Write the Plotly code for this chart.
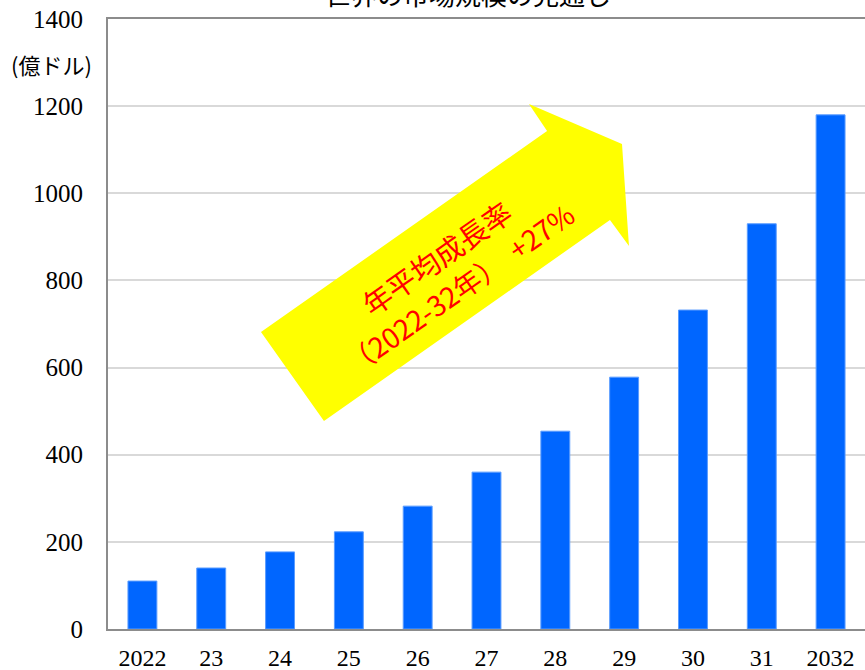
import plotly.graph_objects as go

categories = ["2022", "23", "24", "25", "26", "27", "28", "29", "30", "31", "2032"]
values = [110, 140, 177, 223, 282, 360, 454, 578, 732, 930, 1180]
y_ticks = [0, 200, 400, 600, 800, 1000, 1200, 1400]
unit_label = "(億ドル)"
title_text = "世界の市場規模の見通し"
arrow_line1 = "年平均成長率"
arrow_line2 = "（2022-32年）  +27%"

num_font = "Times New Roman, Liberation Serif, serif"
jp_font = "Noto Sans CJK JP"

fig = go.Figure()
fig.add_trace(go.Bar(
    x=list(range(len(categories))), y=values,
    marker=dict(color="#0066FF", line=dict(color="#5a9cff", width=1)),
    width=0.42, hoverinfo="skip",
))

# yellow arrow (paper coordinates)
arrow_pts = [(0.2021, 0.4869), (0.2853, 0.3410), (0.6631, 0.6705), (0.6882, 0.6279),
             (0.6790, 0.7950), (0.5561, 0.8607), (0.5800, 0.8164)]
path = "M " + " L ".join(f"{x},{y}" for x, y in arrow_pts) + " Z"
fig.add_shape(type="path", path=path, xref="paper", yref="paper",
              fillcolor="#FFFF00", line=dict(width=0), layer="above")

fig.add_annotation(text=arrow_line1, xref="paper", yref="paper", x=0.4333, y=0.6098,
                   showarrow=False, textangle=-35, xanchor="center", yanchor="middle",
                   font=dict(family=jp_font, size=29, color="#FF0000"))
fig.add_annotation(text=arrow_line2, xref="paper", yref="paper", x=0.4637, y=0.559,
                   showarrow=False, textangle=-35, xanchor="center", yanchor="middle",
                   font=dict(family=jp_font, size=28, color="#FF0000"))

fig.add_annotation(text=unit_label, xref="paper", yref="paper", x=-0.0745, y=0.927,
                   showarrow=False, xanchor="center", yanchor="middle",
                   font=dict(family=jp_font, size=22, color="#000000"))
fig.add_annotation(text=title_text, xref="paper", yref="paper", x=0.475, y=1.042,
                   showarrow=False, xanchor="center", yanchor="middle",
                   font=dict(family=jp_font, size=26, color="#000000"))

fig.update_layout(
    width=865, height=670,
    margin=dict(l=108, r=0, t=19, b=41),
    paper_bgcolor="white", plot_bgcolor="white",
    showlegend=False,
    bargap=0.58,
)
fig.update_xaxes(
    tickmode="array", tickvals=list(range(len(categories))), ticktext=categories,
    range=[-0.5, len(categories) - 0.5], automargin=False,
    showline=True, linecolor="#8c8c8c", linewidth=2, mirror=True,
    showgrid=False, ticks="", ticklabelstandoff=6,
    tickfont=dict(family=num_font, size=24, color="#000000"),
)
fig.update_yaxes(
    range=[0, 1400], tickvals=y_ticks, automargin=False,
    showline=True, linecolor="#8c8c8c", linewidth=2, mirror=False,
    showgrid=True, gridcolor="#d9d9d9", gridwidth=2, zeroline=False,
    ticks="", ticklabelstandoff=18,
    tickfont=dict(family=num_font, size=25, color="#000000"),
)

fig.write_html("out.html", config={"displayModeBar": False},
               post_script="document.body.style.margin='0px';document.body.style.overflow='hidden';")
